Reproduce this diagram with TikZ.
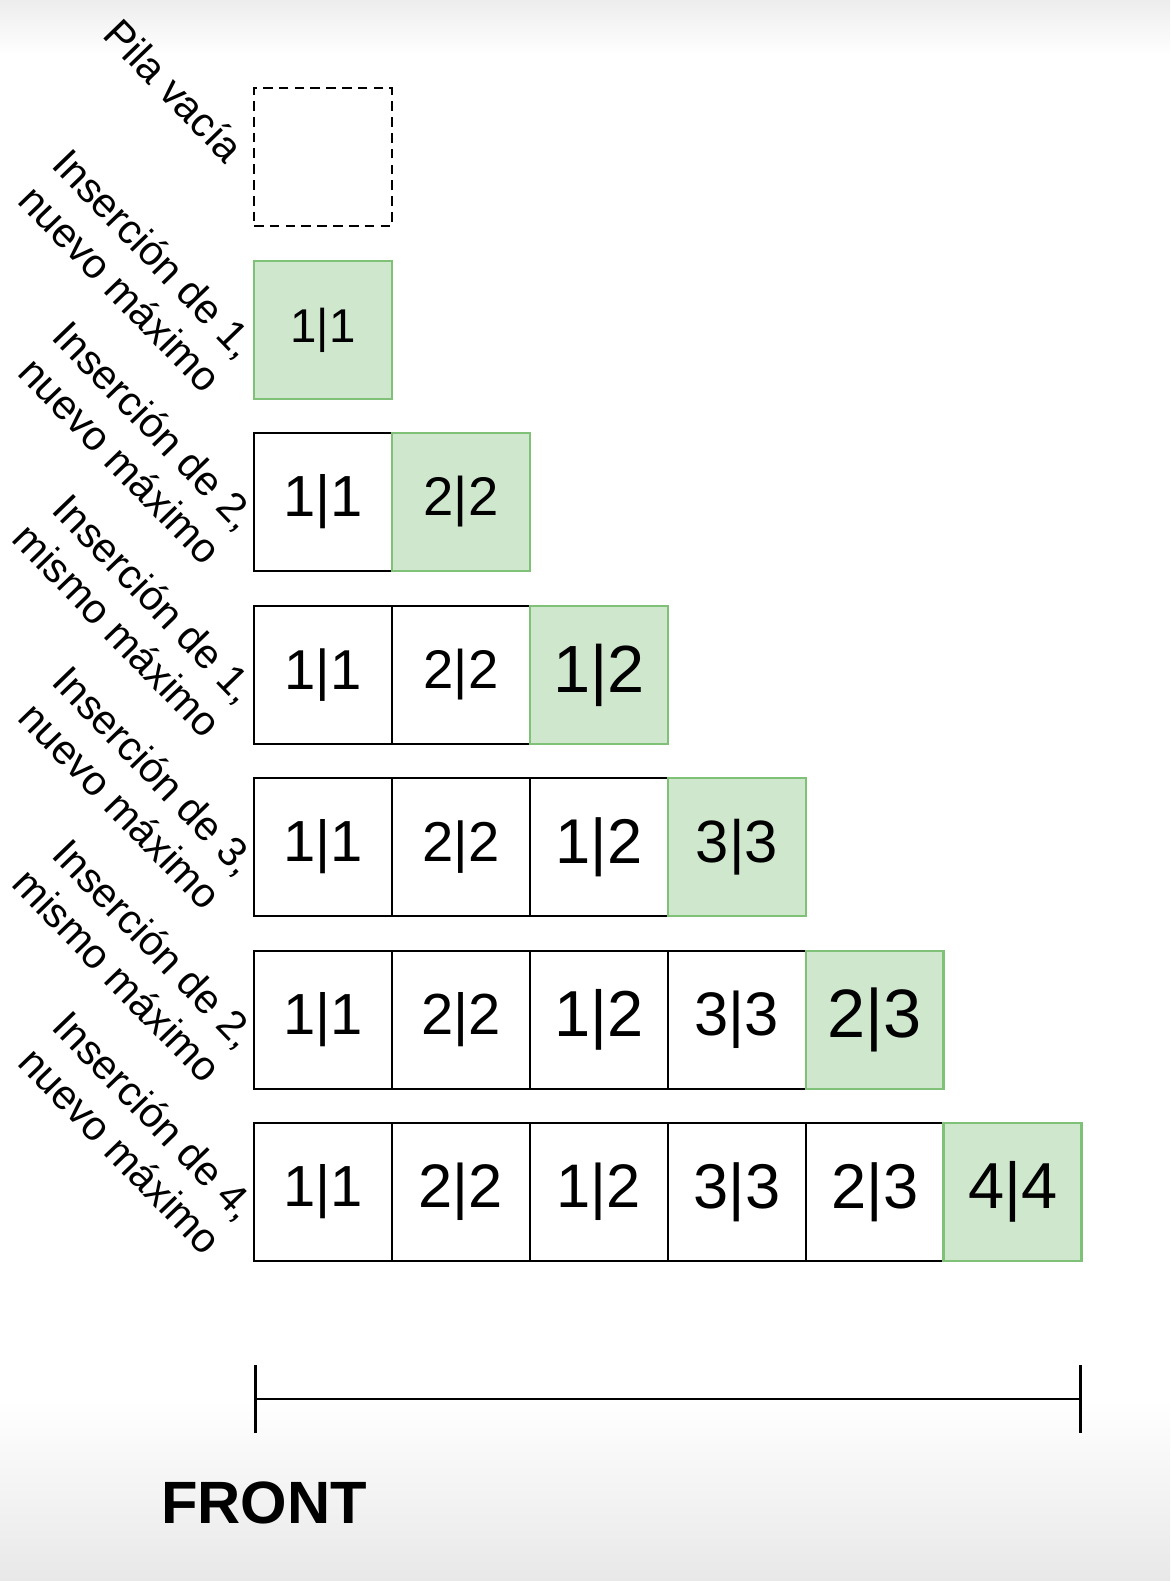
\documentclass[tikz,border=0pt]{standalone}
\usepackage{fontspec}
\setmainfont{Liberation Sans}
\usepackage{tikz}
\usetikzlibrary{positioning,calc,arrows.meta}
\definecolor{maxfill}{HTML}{CFE7CD}
\definecolor{maxline}{HTML}{7FC177}

\begin{document}
\begin{tikzpicture}[x=0.02cm, y=0.02cm,
  cell/.style={draw, line width=1.6pt, minimum size=2.76cm, outer sep=0pt,
               inner sep=0pt, fill=white},
  maxcell/.style={cell, fill=maxfill, draw=maxline},
  emptycell/.style={cell, dashed, dash pattern=on 5.5pt off 3.5pt, line width=1.4pt},
  fs/.style={font=\fontsize{#1}{#1}\selectfont},
  lbl/.style={rotate=-46, anchor=east, align=right, inner sep=0pt,
              font=\fontsize{23.5}{28}\selectfont}]

% fondo y margenes
\useasboundingbox (0,0) rectangle (1170,-1581);
\fill[white] (0,0) rectangle (1170,-1581);
\shade[top color=gray!14, bottom color=white] (0,0) rectangle (1170,-55);
\shade[top color=white, bottom color=gray!18] (0,-1400) rectangle (1170,-1581);

% pila vacia
\node[emptycell] (e0) at (323,-157) {};
\node[lbl] (l0) at ($(e0.west)+(-17,2)$) {Pila vacía};

% insercion de 1, nuevo maximo
\node[maxcell, fs=27] (r1a) at (323,-330) {1|1};
\node[lbl] (l1) at ($(r1a.west)+(-22,-38)$) {Inserción de 1,\\nuevo máximo};

% insercion de 2, nuevo maximo
\node[cell, fs=33] (r2a) at (323,-502) {1|1};
\node[maxcell, fs=31, right=0pt of r2a] (r2b) {2|2};
\node[lbl] (l2) at ($(r2a.west)+(-22,-38)$) {Inserción de 2,\\nuevo máximo};

% insercion de 1, mismo maximo
\node[cell, fs=32] (r3a) at (323,-675) {1|1};
\node[cell, fs=31, right=0pt of r3a] (r3b) {2|2};
\node[maxcell, fs=38, right=0pt of r3b] (r3c) {1|2};
\node[lbl] (l3) at ($(r3a.west)+(-22,-38)$) {Inserción de 1,\\mismo máximo};

% insercion de 3, nuevo maximo
\node[cell, fs=33] (r4a) at (323,-847) {1|1};
\node[cell, fs=32, right=0pt of r4a] (r4b) {2|2};
\node[cell, fs=36, right=0pt of r4b] (r4c) {1|2};
\node[maxcell, fs=34, right=0pt of r4c] (r4d) {3|3};
\node[lbl] (l4) at ($(r4a.west)+(-22,-38)$) {Inserción de 3,\\nuevo máximo};

% insercion de 2, mismo maximo
\node[cell, fs=33] (r5a) at (323,-1020) {1|1};
\node[cell, fs=33, right=0pt of r5a] (r5b) {2|2};
\node[cell, fs=37, right=0pt of r5b] (r5c) {1|2};
\node[cell, fs=35, right=0pt of r5c] (r5d) {3|3};
\node[maxcell, fs=39, right=0pt of r5d] (r5e) {2|3};
\node[lbl] (l5) at ($(r5a.west)+(-22,-38)$) {Inserción de 2,\\mismo máximo};

% insercion de 4, nuevo maximo
\node[cell, fs=33] (r6a) at (323,-1192) {1|1};
\node[cell, fs=35, right=0pt of r6a] (r6b) {2|2};
\node[cell, fs=35, right=0pt of r6b] (r6c) {1|2};
\node[cell, fs=36, right=0pt of r6c] (r6d) {3|3};
\node[cell, fs=36, right=0pt of r6d] (r6e) {2|3};
\node[maxcell, fs=37, right=0pt of r6e] (r6f) {4|4};
\node[lbl] (l6) at ($(r6a.west)+(-22,-38)$) {Inserción de 4,\\nuevo máximo};

% eje FRONT
\coordinate (fl) at (254,-1399);
\coordinate (fr) at (1082,-1399);
\draw[line width=1.6pt, {Bar[width=1.36cm]}-{Bar[width=1.36cm]}] (fl) -- (fr);
\node[font=\bfseries\fontsize{34}{34}\selectfont] (front) at (264,-1503) {FRONT};
\end{tikzpicture}
\end{document}
